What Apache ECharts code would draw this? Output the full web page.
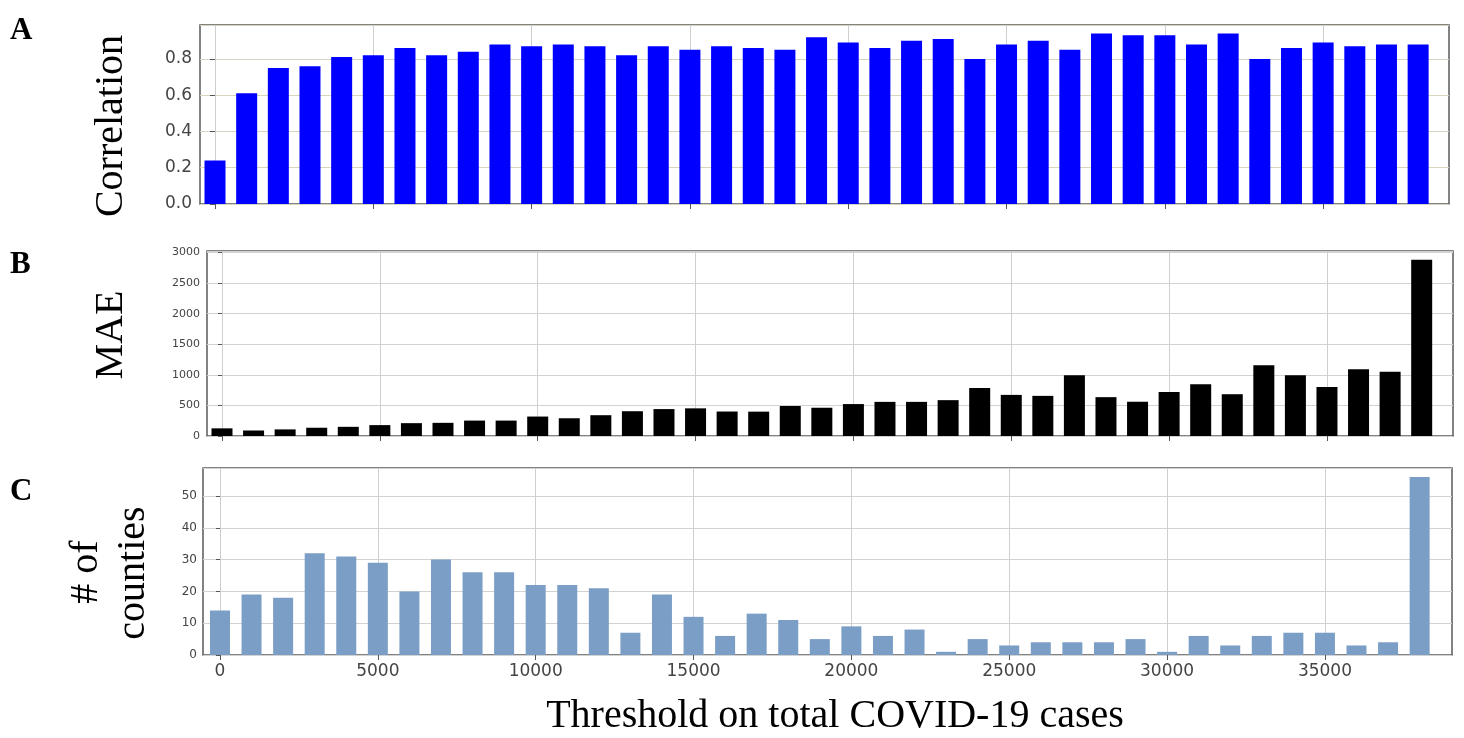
<!DOCTYPE html>
<html>
<head>
<meta charset="UTF-8">
<title>Threshold on total COVID-19 cases</title>
<script src="https://cdn.jsdelivr.net/npm/echarts@6/dist/echarts.min.js"></script>
<style>
  html, body { margin: 0; padding: 0; background: #fff; }
  #container { width: 1464px; height: 738px; }
</style>
</head>
<body>
<div id="container"></div>
<script>
// thresholds (x positions of the bars)
var thresholds = [0, 1000, 2000, 3000, 4000, 5000, 6000, 7000, 8000, 9000,
  10000, 11000, 12000, 13000, 14000, 15000, 16000, 17000, 18000, 19000,
  20000, 21000, 22000, 23000, 24000, 25000, 26000, 27000, 28000, 29000,
  30000, 31000, 32000, 33000, 34000, 35000, 36000, 37000, 38000];
var xTicks = [0, 5000, 10000, 15000, 20000, 25000, 30000, 35000];

// A: correlation
var correlation = [0.24, 0.61, 0.75, 0.76, 0.81, 0.82, 0.86, 0.82, 0.84, 0.88,
  0.87, 0.88, 0.87, 0.82, 0.87, 0.85, 0.87, 0.86, 0.85, 0.92,
  0.89, 0.86, 0.90, 0.91, 0.80, 0.88, 0.90, 0.85, 0.94, 0.93,
  0.93, 0.88, 0.94, 0.80, 0.86, 0.89, 0.87, 0.88, 0.88];
// B: MAE
var mae = [125, 90, 108, 135, 150, 178, 210, 215, 252, 252,
  318, 290, 340, 405, 440, 452, 400, 398, 490, 462,
  522, 558, 558, 586, 785, 672, 656, 995, 635, 560,
  720, 845, 683, 1158, 995, 802, 1090, 1050, 2880];
// C: number of counties
var counties = [14, 19, 18, 32, 31, 29, 20, 30, 26, 26,
  22, 22, 21, 7, 19, 12, 6, 13, 11, 5,
  9, 6, 8, 1, 5, 3, 4, 4, 4, 5,
  1, 6, 3, 6, 7, 7, 3, 4, 56];

function pairs(vals) {
  return thresholds.map(function (t, i) { return [t, vals[i]]; });
}
function plain(v) { return String(v); }

var tickFont = 'DejaVu Sans';

function xAxisFor(idx, min, max, showLabels) {
  return {
    type: 'value', gridIndex: idx, min: min, max: max,
    axisLine: { show: false },
    axisTick: { show: true, customValues: xTicks, length: 5, lineStyle: { color: '#555' } },
    axisLabel: { show: showLabels, customValues: xTicks, color: '#444', fontSize: 17,
      fontFamily: tickFont, margin: 8, formatter: plain },
    splitLine: { show: true, lineStyle: { color: '#cfcfcf', width: 1 } }
  };
}

var dom = document.getElementById('container');
var myChart = echarts.init(dom, null, { renderer: 'canvas' });

var option = {
  backgroundColor: '#fff',
  animation: false,
  grid: [
    { left: 200, top: 25, width: 1249, height: 179, show: true, borderColor: '#5a5a5a', borderWidth: 1.5 },
    { left: 207, top: 251, width: 1246, height: 185, show: true, borderColor: '#5a5a5a', borderWidth: 1.5 },
    { left: 203, top: 468, width: 1249, height: 187, show: true, borderColor: '#5a5a5a', borderWidth: 1.5 }
  ],
  xAxis: [
    xAxisFor(0, -474, 38975, false),
    xAxisFor(1, -475, 38992, false),
    xAxisFor(2, -538, 39025, true)
  ],
  yAxis: [
    {
      type: 'value', gridIndex: 0, min: 0, max: 0.987, interval: 0.2,
      axisLine: { show: false },
      axisTick: { show: true, length: 5, lineStyle: { color: '#555' } },
      axisLabel: { color: '#444', fontSize: 17, fontFamily: tickFont, margin: 8, showMaxLabel: false,
        formatter: function (v) { return v.toFixed(1); } },
      splitLine: { lineStyle: { color: '#d8d5bc', width: 1.2 } }
    },
    {
      type: 'value', gridIndex: 1, min: 0, max: 3024, interval: 500,
      axisLine: { show: false },
      axisTick: { show: true, length: 4, lineStyle: { color: '#555' } },
      axisLabel: { color: '#444', fontSize: 11, fontFamily: tickFont, margin: 7, formatter: plain },
      splitLine: { lineStyle: { color: '#d2d2d2', width: 1.2 } }
    },
    {
      type: 'value', gridIndex: 2, min: 0, max: 58.8, interval: 10,
      axisLine: { show: false },
      axisTick: { show: true, length: 4, lineStyle: { color: '#555' } },
      axisLabel: { color: '#444', fontSize: 12, fontFamily: tickFont, margin: 6, showMaxLabel: false,
        formatter: plain },
      splitLine: { lineStyle: { color: '#d2d2d2', width: 1.2 } }
    }
  ],
  series: [
    { name: 'Correlation', type: 'bar', xAxisIndex: 0, yAxisIndex: 0, barWidth: 21,
      itemStyle: { color: '#0000ff' }, data: pairs(correlation) },
    { name: 'MAE', type: 'bar', xAxisIndex: 1, yAxisIndex: 1, barWidth: 21,
      itemStyle: { color: '#000000' }, data: pairs(mae) },
    { name: '# of counties', type: 'bar', xAxisIndex: 2, yAxisIndex: 2, barWidth: 20,
      itemStyle: { color: '#7b9ec6' }, data: pairs(counties) }
  ],
  graphic: [
    { type: 'text', left: 10, top: 15, style: { text: 'A', font: 'bold 31px "Liberation Serif"', fill: '#000' } },
    { type: 'text', left: 10, top: 249, style: { text: 'B', font: 'bold 31px "Liberation Serif"', fill: '#000' } },
    { type: 'text', left: 10, top: 476, style: { text: 'C', font: 'bold 31px "Liberation Serif"', fill: '#000' } },
    { type: 'text', x: 111, y: 126, rotation: Math.PI / 2,
      style: { text: 'Correlation', font: '40px "Liberation Serif"', fill: '#000', align: 'center', verticalAlign: 'middle' } },
    { type: 'text', x: 111, y: 335, rotation: Math.PI / 2,
      style: { text: 'MAE', font: '40px "Liberation Serif"', fill: '#000', align: 'center', verticalAlign: 'middle' } },
    { type: 'text', x: 86, y: 572, rotation: Math.PI / 2,
      style: { text: '# of', font: '40px "Liberation Serif"', fill: '#000', align: 'center', verticalAlign: 'middle' } },
    { type: 'text', x: 133, y: 573, rotation: Math.PI / 2,
      style: { text: 'counties', font: '40px "Liberation Serif"', fill: '#000', align: 'center', verticalAlign: 'middle' } },
    { type: 'text', x: 835, y: 716,
      style: { text: 'Threshold on total COVID-19 cases', font: '40px "Liberation Serif"', fill: '#000', align: 'center', verticalAlign: 'middle' } }
  ]
};

myChart.setOption(option);
</script>
</body>
</html>
